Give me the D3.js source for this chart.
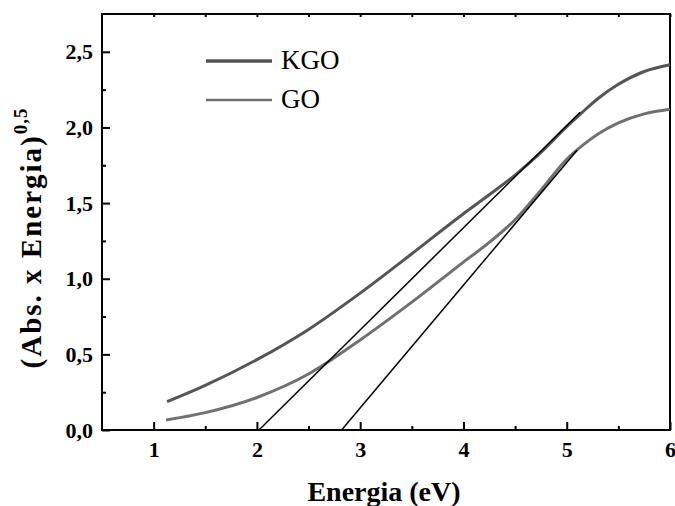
<!DOCTYPE html>
<html>
<head>
<meta charset="utf-8">
<script src="https://cdn.jsdelivr.net/npm/d3@7"></script>
<style>
  body { margin: 0; background: #fff; }
  svg text { font-family: 'Liberation Serif', 'Times New Roman', serif; }
</style>
</head>
<body>
<div id="chart"></div>
<script>
// KGO curve
const kgoEnergy = [1.13, 1.5, 2, 2.5, 3, 3.5, 4, 4.25, 4.5, 4.75, 5, 5.15, 5.3, 5.5, 5.75, 6];
const kgoValues = [0.187, 0.295, 0.465, 0.665, 0.905, 1.165, 1.43, 1.555, 1.685, 1.835, 2.005, 2.10, 2.19, 2.285, 2.37, 2.415];
// GO curve
const goEnergy = [1.12, 1.5, 2, 2.5, 3, 3.5, 4, 4.25, 4.5, 4.75, 5, 5.15, 5.3, 5.5, 5.75, 6];
const goValues = [0.066, 0.115, 0.215, 0.37, 0.595, 0.845, 1.11, 1.24, 1.39, 1.585, 1.79, 1.88, 1.955, 2.03, 2.09, 2.12];
// tangent lines (start, end)
const kgoTangentX = [2.02, 5.13];
const kgoTangentY = [0, 2.10];
const goTangentX = [2.82, 5.10];
const goTangentY = [0, 1.85];

const xTicks = [1, 2, 3, 4, 5, 6];
const yTicks = [0, 0.5, 1, 1.5, 2, 2.5];
const legendNames = ['KGO', 'GO'];

const width = 675;
const height = 506;
const margins = { top: 14, bottom: 76, left: 102, right: 5 };
const serif = "'Liberation Serif', 'Times New Roman', serif";

const svg = d3.select('#chart').append('svg')
  .attr('width', width)
  .attr('height', height);

const xScale = d3.scaleLinear()
  .domain([0.5, 6])
  .range([margins.left, width - margins.right]);

const yScale = d3.scaleLinear()
  .domain([0, 2.75])
  .range([height - margins.bottom, margins.top]);

const commaFormat = d => d3.format('.1f')(d).replace('.', ',');

// minor ticks
const xMinor = d3.range(1.5, 6, 1);
const yMinor = d3.range(0.25, 2.75, 0.5);

function styleAxis(g) {
  g.attr('font-family', serif).attr('font-size', 22);
  g.select('.domain').remove();
  g.selectAll('.tick line').attr('stroke', '#000').attr('stroke-width', 2);
  g.selectAll('.tick text')
    .attr('fill', '#000')
    .style('font-family', serif)
    .style('font-size', '22px')
    .style('font-weight', 'bold');
}

// bottom axis
svg.append('g')
  .attr('transform', `translate(0,${height - margins.bottom})`)
  .call(d3.axisBottom(xScale).tickValues(xTicks).tickSize(-8).tickPadding(11).tickFormat(d3.format('d')))
  .call(styleAxis);
svg.append('g')
  .attr('transform', `translate(0,${height - margins.bottom})`)
  .call(d3.axisBottom(xScale).tickValues(xMinor).tickSize(-4).tickFormat(''))
  .call(styleAxis);

// top axis (ticks only)
svg.append('g')
  .attr('transform', `translate(0,${margins.top})`)
  .call(d3.axisTop(xScale).tickValues(xTicks.concat(xMinor)).tickSize(-3).tickFormat(''))
  .call(styleAxis);

// left axis
svg.append('g')
  .attr('transform', `translate(${margins.left},0)`)
  .call(d3.axisLeft(yScale).tickValues(yTicks).tickSize(-8).tickPadding(9).tickFormat(commaFormat))
  .call(styleAxis);
svg.append('g')
  .attr('transform', `translate(${margins.left},0)`)
  .call(d3.axisLeft(yScale).tickValues(yMinor).tickSize(-4).tickFormat(''))
  .call(styleAxis);

// frame
svg.append('rect')
  .attr('x', margins.left)
  .attr('y', margins.top)
  .attr('width', width - margins.left - margins.right)
  .attr('height', height - margins.top - margins.bottom)
  .style('fill', 'none')
  .style('stroke', '#000')
  .style('stroke-width', 2);

const lineGroup = svg.append('g').attr('class', 'lineGroup');

const curveLine = d3.line()
  .x(d => xScale(d[0]))
  .y(d => yScale(d[1]))
  .curve(d3.curveMonotoneX);

lineGroup.append('path')
  .datum(d3.zip(goEnergy, goValues))
  .attr('d', curveLine)
  .style('stroke', '#707070')
  .style('stroke-width', 3)
  .style('fill', 'none');

lineGroup.append('path')
  .datum(d3.zip(kgoEnergy, kgoValues))
  .attr('d', curveLine)
  .style('stroke', '#555555')
  .style('stroke-width', 3)
  .style('fill', 'none');

const straight = d3.line()
  .x(d => xScale(d[0]))
  .y(d => yScale(d[1]));

lineGroup.append('path')
  .datum(d3.zip(kgoTangentX, kgoTangentY))
  .attr('d', straight)
  .style('stroke', '#000')
  .style('stroke-width', 1.5)
  .style('fill', 'none');

lineGroup.append('path')
  .datum(d3.zip(goTangentX, goTangentY))
  .attr('d', straight)
  .style('stroke', '#000')
  .style('stroke-width', 1.5)
  .style('fill', 'none');

// legend
const legend = svg.append('g').attr('class', 'legend');
const legendColors = ['#555555', '#707070'];
const legendWidths = [3.5, 2.5];
legendNames.forEach((name, i) => {
  const y = 61 + i * 39;
  legend.append('line')
    .attr('x1', 206).attr('x2', 272)
    .attr('y1', y).attr('y2', y)
    .style('stroke', legendColors[i])
    .style('stroke-width', legendWidths[i]);
  legend.append('text')
    .attr('x', 281)
    .attr('y', y + 8)
    .style('font-family', serif)
    .style('font-size', '27px')
    .text(name);
});

// axis titles
svg.append('text')
  .attr('x', (margins.left + width - margins.right) / 2 - 2)
  .attr('y', 501)
  .style('text-anchor', 'middle')
  .style('font-family', serif)
  .style('font-size', '28px')
  .style('font-weight', 'bold')
  .text('Energia (eV)');

const yTitle = svg.append('text')
  .attr('transform', 'translate(41,238) rotate(-90)')
  .style('text-anchor', 'middle')
  .style('font-family', serif)
  .style('font-size', '29px')
  .style('font-weight', 'bold')
  .style('letter-spacing', '2px');
yTitle.append('tspan').text('(Abs. x Energia)');
yTitle.append('tspan')
  .attr('dy', -14)
  .style('font-size', '19px')
  .style('letter-spacing', '1px')
  .text('0,5');
</script>
</body>
</html>
